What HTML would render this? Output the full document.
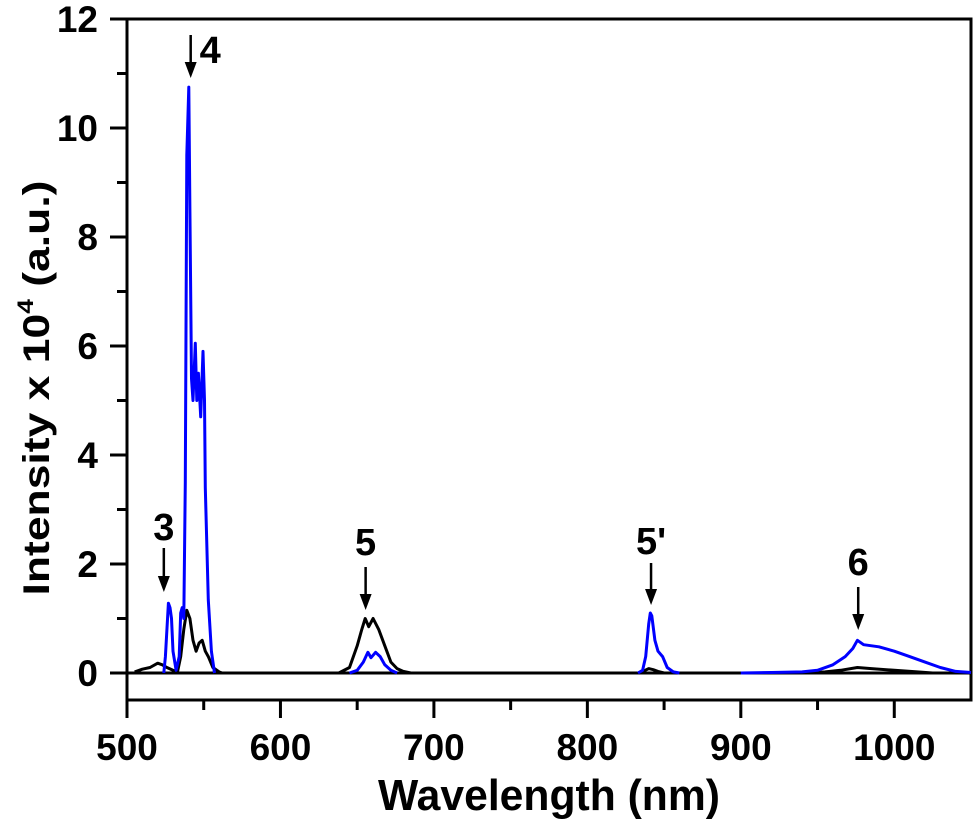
<!DOCTYPE html>
<html><head><meta charset="utf-8"><style>
html,body{margin:0;padding:0;background:#fff}
svg{display:block;font-family:"Liberation Sans",Arial,sans-serif;font-weight:bold}
</style></head><body>
<svg id="chart" width="975" height="827" viewBox="0 0 975 827">
<g id="axes"></g>
<g id="series"></g>
<g id="annot"></g>
<text x="549" y="810" font-size="44" text-anchor="middle" textLength="342" lengthAdjust="spacingAndGlyphs">Wavelength (nm)</text>
<text transform="translate(49,388) rotate(-90)" font-size="37" text-anchor="middle" textLength="415" lengthAdjust="spacingAndGlyphs">Intensity x 10<tspan font-size="22" dy="-16">4</tspan><tspan dy="16"> (a.u.)</tspan></text>
</svg>
<script>
const xTicks=[500,600,700,800,900,1000];
const xMinor=[550,650,750,850,950,1050];
const yTicks=[0,2,4,6,8,10,12];
const yMinor=[1,3,5,7,9,11];
const blueX=[524,525,527,528,529,530,532,534,535,536,537,538,539,540.3,541,542,543,544.5,545.5,546.5,548,549.5,550.5,551,553,555,557,null,645,650,654,657,659,662,665,668,672,676,null,833,836,838,840,841,842,844,846,849,852,856,860,null,900,920,940,950,960,968,973,976,980,990,1000,1010,1020,1030,1040,1050];
const blueY=[0,0.3,1.28,1.2,1.0,0.4,0.05,0.3,1.1,1.2,1.0,3.5,9.5,10.75,8.5,5.4,5.0,6.05,5.0,5.5,4.7,5.9,5.0,3.4,1.34,0.4,0,null,0,0.05,0.2,0.38,0.28,0.38,0.3,0.15,0.05,0,null,0,0.05,0.3,0.9,1.1,1.05,0.6,0.4,0.3,0.1,0.02,0,null,0,0.01,0.02,0.05,0.15,0.3,0.45,0.6,0.52,0.48,0.4,0.3,0.2,0.1,0.03,0.01,0];
const blackX=[505,510,515,520,523,526,530,533,535,537,539,541,543,545,547,549,551,553,556,560,562,null,638,645,650,653,655.2,657.5,660.4,664,668,672,676,680,685,null,833,837,840,843,846,850,null,945,955,965,976,985,1000,1015,1025];
const blackY=[0.02,0.07,0.1,0.18,0.15,0.1,0.05,0.03,0.3,0.8,1.15,1.0,0.6,0.4,0.55,0.6,0.4,0.3,0.1,0.02,0,null,0,0.1,0.5,0.8,1.0,0.85,1.0,0.8,0.5,0.2,0.08,0.03,0,null,0,0.04,0.08,0.06,0.03,0,null,0,0.02,0.05,0.1,0.08,0.05,0.02,0];
const labels=["3","4","5","5'","6"];
const labelX=[524,541.5,655.5,841.5,976.5];
const X0=127,X1=971,Y0=673,Y12=19;
const sx=v=>X0+(v-500)*(X1-X0)/550;
const sy=v=>Y0+(Y12-Y0)*v/12;
const NS="http://www.w3.org/2000/svg";
function mk(parent,tag,attrs){const e=document.createElementNS(NS,tag);for(const k in attrs)e.setAttribute(k,attrs[k]);parent.appendChild(e);return e;}
const ax=document.getElementById('axes');
let r=mk(ax,'rect',{x:X0,y:Y12,width:X1-X0,height:700-Y12,fill:'none',stroke:'#000','stroke-width':3});


let z=mk(ax,'line',{x1:X0,x2:X1,y1:Y0,y2:Y0,stroke:'#000','stroke-width':3});


xTicks.forEach(v=>{const t=mk(ax,'line',{x1:sx(v),x2:sx(v),y1:700,y2:718,stroke:'#000','stroke-width':3});


const l=mk(ax,'text',{x:sx(v),y:760,'font-size':37,'text-anchor':'middle'});l.textContent=v;

});
xMinor.forEach(v=>{if(v>=1050)return;const t=mk(ax,'line',{x1:sx(v),x2:sx(v),y1:700,y2:710,stroke:'#000','stroke-width':3});

});
yTicks.forEach(v=>{const t=mk(ax,'line',{x1:110,x2:X0,y1:sy(v),y2:sy(v),stroke:'#000','stroke-width':3});


const l=mk(ax,'text',{x:98,y:sy(v)+13,'font-size':37,'text-anchor':'end'});l.textContent=v;

});
yMinor.forEach(v=>{const t=mk(ax,'line',{x1:117,x2:X0,y1:sy(v),y2:sy(v),stroke:'#000','stroke-width':3});

});
function path(xs,ys){let d='',pen=false;for(let i=0;i<xs.length;i++){if(xs[i]===null){pen=false;continue;}d+=(pen?'L':'M')+sx(xs[i]).toFixed(1)+','+sy(ys[i]).toFixed(1);pen=true;}return d;}
const sg=document.getElementById('series');
const pk=mk(sg,'path',{d:path(blackX,blackY),fill:'none',stroke:'#000','stroke-width':3,'stroke-linejoin':'round'});


const pb=mk(sg,'path',{d:path(blueX,blueY),fill:'none',stroke:'#0000ff','stroke-width':3,'stroke-linejoin':'round'});


const an=document.getElementById('annot');
const arrowTop=[548,35,567,563,587],arrowBot=[592,78,610,605,630],textY=[540,63,555,554,575],textDX=[0,9,0,0,0];
labels.forEach((s,i)=>{const x=sx(labelX[i]);
const g=mk(an,'g',{});


mk(g,'line',{x1:x,x2:x,y1:arrowTop[i],y2:arrowBot[i]-12,stroke:'#000','stroke-width':2.5});
mk(g,'polygon',{points:`${x-6},${arrowBot[i]-16} ${x+6},${arrowBot[i]-16} ${x},${arrowBot[i]}`,fill:'#000'});
const t=mk(g,'text',{x:x+textDX[i],y:textY[i],'font-size':38,'text-anchor':textDX[i]?'start':'middle'});t.textContent=s;});
</script>
</body></html>
